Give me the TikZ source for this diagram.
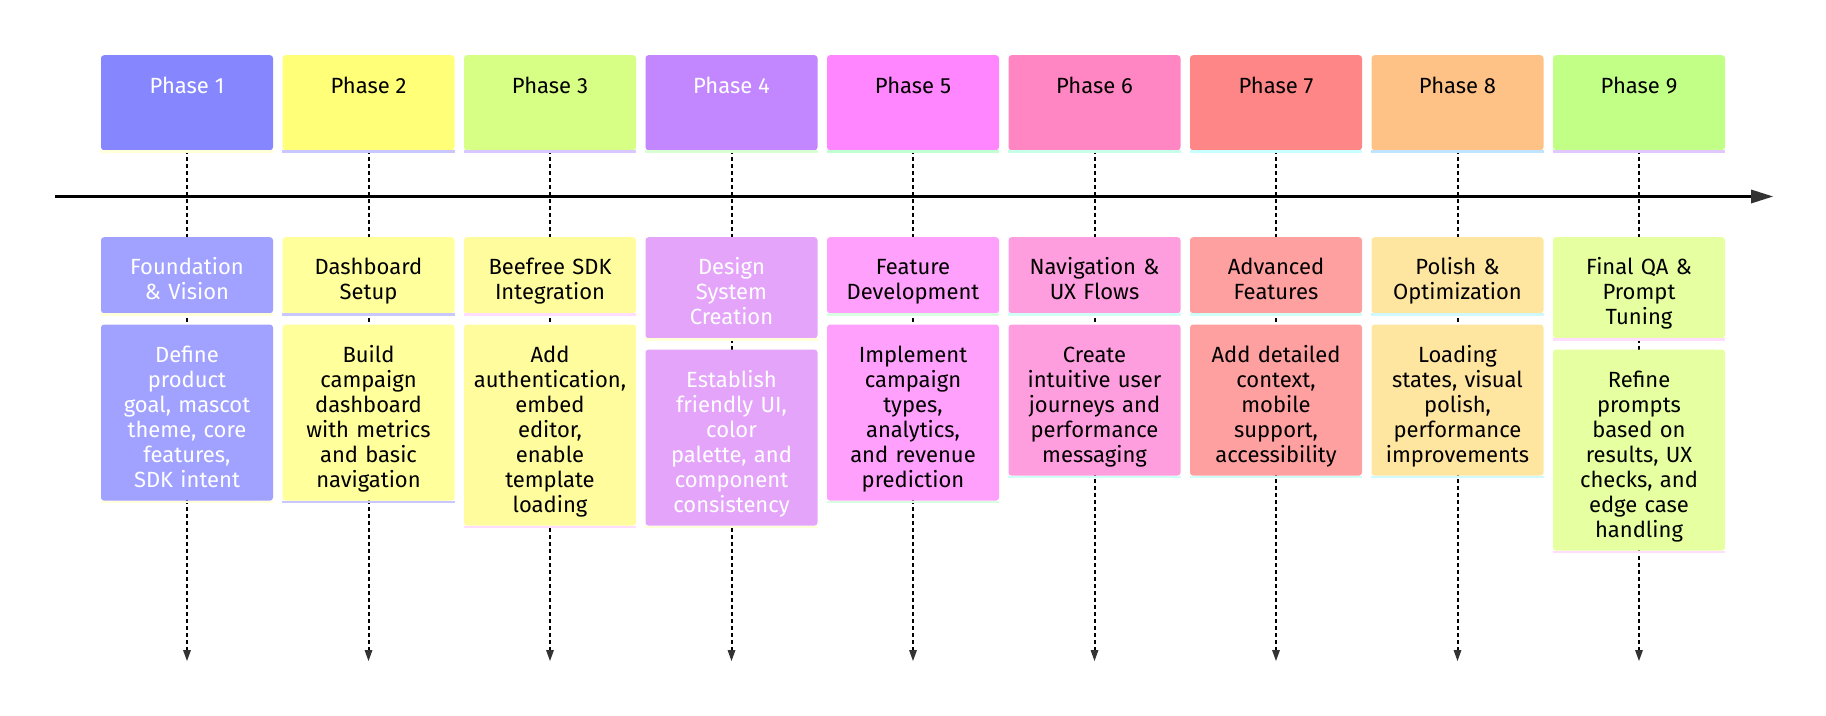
\documentclass[tikz,border=0pt]{standalone}
\usepackage{fontspec}
\setmainfont{Fira Sans}
\usetikzlibrary{arrows.meta,positioning,backgrounds}

\definecolor{c1}{HTML}{8686FF}
\definecolor{c2}{HTML}{FFFF78}
\definecolor{c3}{HTML}{D7FF86}
\definecolor{c4}{HTML}{C286FF}
\definecolor{c5}{HTML}{FF86FF}
\definecolor{c6}{HTML}{FF86C2}
\definecolor{c7}{HTML}{FF8686}
\definecolor{c8}{HTML}{FFC286}
\definecolor{c9}{HTML}{C2FF86}
\definecolor{t1}{HTML}{A1A1FF}
\definecolor{t2}{HTML}{FFFF9C}
\definecolor{t3}{HTML}{FFFC9E}
\definecolor{t4}{HTML}{E4A4FA}
\definecolor{t5}{HTML}{FFA0FC}
\definecolor{t6}{HTML}{FF9EDF}
\definecolor{t7}{HTML}{FFA0A0}
\definecolor{t8}{HTML}{FFE6A0}
\definecolor{t9}{HTML}{E6FFA0}
\definecolor{s1}{HTML}{FFFFD8}
\definecolor{s2}{HTML}{C8C8FF}
\definecolor{s3}{HTML}{D8C8FF}
\definecolor{s4}{HTML}{D8FFD0}
\definecolor{s5}{HTML}{C0FFD0}
\definecolor{s6}{HTML}{C8FFE8}
\definecolor{s7}{HTML}{C8FFFF}
\definecolor{s8}{HTML}{C0E4FF}
\definecolor{s9}{HTML}{E0C8FF}
\definecolor{u3}{HTML}{FFDDFF}
\definecolor{u5}{HTML}{D8FFE0}
\definecolor{u6}{HTML}{D0FFF8}
\definecolor{u8}{HTML}{D0F8FF}
\definecolor{tipgray}{HTML}{333333}

\newcommand{\boxfont}{\fontsize{22}{25}\selectfont}

\begin{document}
\begin{tikzpicture}[x=1pt,y=-1pt,
  card/.style 2 args={rectangle, rounded corners=3pt, fill=#1, minimum width=172pt,
    append after command={([yshift=-1.2pt]\tikzlastnode.south west) edge[draw=#2, line width=2.4pt] ([yshift=-1.2pt]\tikzlastnode.south east)}},
  phase/.style 2 args={card={#1}{#2}, anchor=north, inner xsep=0pt, inner ysep=0pt,
    text height=38pt, text depth=57pt, font=\boxfont},
  task/.style 2 args={card={#1}{#2}, text width=172pt, align=center, inner xsep=0pt, inner ysep=6pt,
    text height=31.5pt, execute at end node=\strut, font=\boxfont},
  drop/.style={draw=black, line width=2pt, dash pattern=on 4pt off 3pt,
    -{Triangle[length=11pt,width=8pt,color=tipgray,fill=tipgray,line width=0pt]}},
  axis/.style={draw=black, line width=3.5pt, -{Triangle[length=22pt,width=14pt,color=tipgray,fill=tipgray,line width=0pt]}}]
\useasboundingbox (0,0) rectangle (1826,715);

\node[phase={c1}{s1}, text=white] (p1) at (187,55) {Phase 1};
\node[phase={c2}{s2}] (p2) at (368.5,55) {Phase 2};
\node[phase={c3}{s3}] (p3) at (550,55) {Phase 3};
\node[phase={c4}{s4}, text=white] (p4) at (731.5,55) {Phase 4};
\node[phase={c5}{s5}] (p5) at (913,55) {Phase 5};
\node[phase={c6}{s6}] (p6) at (1094.5,55) {Phase 6};
\node[phase={c7}{s7}] (p7) at (1276,55) {Phase 7};
\node[phase={c8}{s8}] (p8) at (1457.5,55) {Phase 8};
\node[phase={c9}{s9}] (p9) at (1639,55) {Phase 9};

\node[task={t1}{s1}, text=white, anchor=north] (a1) at (187,237) {Foundation\\\& Vision};
\node[task={t1}{s1}, text=white, below=11pt of a1] (b1) {Define\\product\\goal, mascot\\theme, core\\features,\\SDK intent};
\node[task={t2}{s2}, anchor=north] (a2) at (368.5,237) {Dashboard\\Setup};
\node[task={t2}{s2}, below=11pt of a2] (b2) {Build\\campaign\\dashboard\\with metrics\\and basic\\navigation};
\node[task={t3}{u3}, anchor=north] (a3) at (550,237) {Beefree SDK\\Integration};
\node[task={t3}{u3}, below=11pt of a3] (b3) {Add\\authentication,\\embed\\editor,\\enable\\template\\loading};
\node[task={t4}{s1}, text=white, anchor=north] (a4) at (731.5,237) {Design\\System\\Creation};
\node[task={t4}{s1}, text=white, below=11pt of a4] (b4) {Establish\\friendly UI,\\color\\palette, and\\component\\consistency};
\node[task={t5}{u5}, anchor=north] (a5) at (913,237) {Feature\\Development};
\node[task={t5}{u5}, below=11pt of a5] (b5) {Implement\\campaign\\types,\\analytics,\\and revenue\\prediction};
\node[task={t6}{u6}, anchor=north] (a6) at (1094.5,237) {Navigation \&\\UX Flows};
\node[task={t6}{u6}, below=11pt of a6] (b6) {Create\\intuitive user\\journeys and\\performance\\messaging};
\node[task={t7}{u6}, anchor=north] (a7) at (1276,237) {Advanced\\Features};
\node[task={t7}{u6}, below=11pt of a7] (b7) {Add detailed\\context,\\mobile\\support,\\accessibility};
\node[task={t8}{u8}, anchor=north] (a8) at (1457.5,237) {Polish \&\\Optimization};
\node[task={t8}{u8}, below=11pt of a8] (b8) {Loading\\states, visual\\polish,\\performance\\improvements};
\node[task={t9}{u3}, anchor=north] (a9) at (1639,237) {Final QA \&\\Prompt\\Tuning};
\node[task={t9}{u3}, below=11pt of a9] (b9) {Refine\\prompts\\based on\\results, UX\\checks, and\\edge case\\handling};

\coordinate (e1) at (187,661);
\coordinate (e2) at (368.5,661);
\coordinate (e3) at (550,661);
\coordinate (e4) at (731.5,661);
\coordinate (e5) at (913,661);
\coordinate (e6) at (1094.5,661);
\coordinate (e7) at (1276,661);
\coordinate (e8) at (1457.5,661);
\coordinate (e9) at (1639,661);
\begin{scope}[on background layer]
\draw[drop] (p1.south) -- (e1);
\draw[drop] (p2.south) -- (e2);
\draw[drop] (p3.south) -- (e3);
\draw[drop] (p4.south) -- (e4);
\draw[drop] (p5.south) -- (e5);
\draw[drop] (p6.south) -- (e6);
\draw[drop] (p7.south) -- (e7);
\draw[drop] (p8.south) -- (e8);
\draw[drop] (p9.south) -- (e9);
\end{scope}

\coordinate (tl) at (55,196.5);
\coordinate (tr) at (1773,196.5);
\draw[axis] (tl) -- (tr);
\end{tikzpicture}
\end{document}
